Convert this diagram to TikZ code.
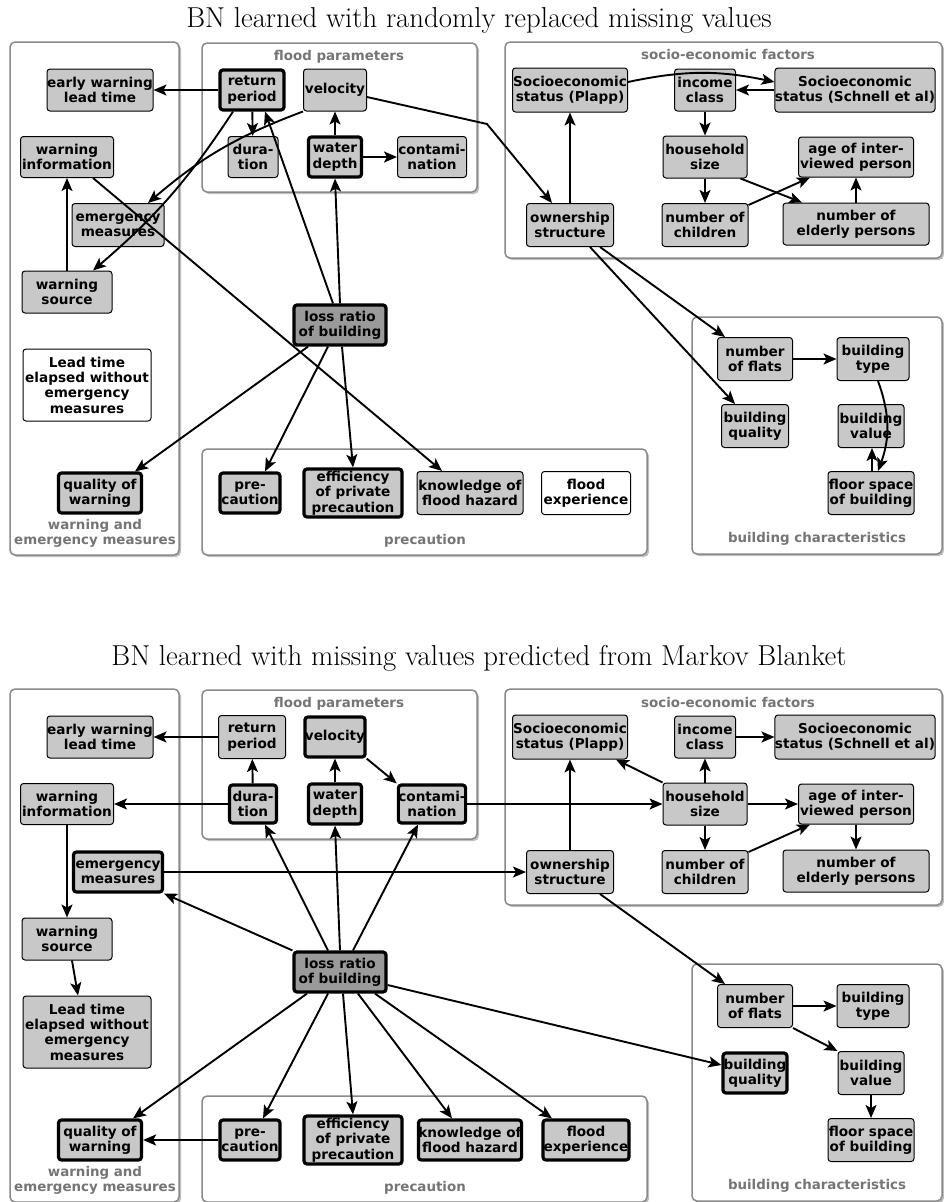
\documentclass[tikz,border=0pt]{standalone}
\usepackage{fontspec}
\newfontfamily\nodefont{DejaVu Sans}
\usetikzlibrary{arrows.meta,shadows}
\definecolor{nodegray}{HTML}{C8C8C8}
\definecolor{lossgray}{HTML}{9A9A9A}
\definecolor{framegray}{HTML}{8A8A8A}
\definecolor{labelgray}{HTML}{757575}
\tikzset{
  nd/.style={draw=black, line width=1pt, fill=nodegray, rounded corners=3pt,
    align=center, inner sep=0pt,
    font=\nodefont\bfseries\fontsize{13.6}{15.3}\selectfont},
  sz/.style 2 args={minimum width=#1pt, minimum height=#2pt},
  thk/.style={line width=3.2pt},
  wht/.style={fill=white},
  lossnd/.style={fill=lossgray, line width=3.2pt},
  grp/.style={draw=framegray, line width=1.5pt, rounded corners=5pt, fill=white,
    drop shadow={shadow xshift=2pt, shadow yshift=-2pt, opacity=0.25, fill=black}},
  grplabel/.style={text=labelgray, align=center, inner sep=0pt,
    font=\nodefont\bfseries\fontsize{13.4}{15.3}\selectfont},
  edge/.style={line width=1.9pt, -{Stealth[length=13pt,width=11pt,inset=3pt]}},
  ttl/.style={font=\fontsize{28.8}{34}\selectfont, anchor=base, inner sep=0pt},
}
\begin{document}
\begin{tikzpicture}[x=1pt,y=1pt]
\fill[white] (0,0) rectangle (944,-1202);
\useasboundingbox (0,0) rectangle (944,-1202);

%% ---------------- upper network ----------------
\node[ttl] (a-title) at (479,-27) {BN learned with randomly replaced missing values};

\draw[grp] (10,-42) rectangle (179,-555);
\draw[grp] (202,-43) rectangle (477,-192);
\draw[grp] (505,-42) rectangle (942,-258);
\draw[grp] (202,-449) rectangle (647,-555);
\draw[grp] (692,-317) rectangle (942,-554);
\node[grplabel] (a-lwarn) at (95,-533) {warning and\\emergency measures};
\node[grplabel] (a-lflood) at (339,-57) {flood parameters};
\node[grplabel] (a-lsocio) at (728,-55) {socio-economic factors};
\node[grplabel] (a-lprec) at (425,-541) {precaution};
\node[grplabel] (a-lbuild) at (817,-539) {building characteristics};

\node[nd,sz={106}{42}] (a-ewlt) at (100,-90) {early warning\\lead time};
\node[nd,thk,sz={64}{40}] (a-rp) at (252,-90) {return\\period};
\node[nd,sz={63}{42}] (a-vel) at (335,-90) {velocity};
\node[nd,sz={50}{41}] (a-dur) at (253,-157) {dura-\\tion};
\node[nd,thk,sz={53}{40}] (a-wd) at (335,-157) {water\\depth};
\node[nd,sz={69}{41}] (a-cont) at (432,-157) {contami-\\nation};
\node[nd,sz={93}{41}] (a-wi) at (67,-157) {warning\\information};
\node[nd,sz={92}{43}] (a-em) at (118,-225) {emergency\\measures};
\node[nd,sz={90}{42}] (a-ws) at (67,-292) {warning\\source};
\node[nd,lossnd,sz={92}{40}] (a-loss) at (340,-325) {loss ratio\\of building};
\node[nd,wht,sz={128}{72}] (a-lead) at (87,-385) {Lead time\\elapsed without\\emergency\\measures};
\node[nd,thk,sz={83}{40}] (a-qw) at (100,-493) {quality of\\warning};
\node[nd,thk,sz={60}{40}] (a-prec) at (250,-493) {pre-\\caution};
\node[nd,thk,sz={98}{48}] (a-eff) at (353,-493) {efficiency\\of private\\precaution};
\node[nd,sz={106}{43}] (a-know) at (470,-493) {knowledge of\\flood hazard};
\node[nd,wht,sz={89}{43}] (a-fexp) at (586,-493) {flood\\experience};
\node[nd,sz={115}{44}] (a-plapp) at (570,-90) {Socioeconomic\\status (Plapp)};
\node[nd,sz={61}{42}] (a-ic) at (705,-90) {income\\class};
\node[nd,sz={160}{44}] (a-schn) at (855,-90) {Socioeconomic\\status (Schnell et al)};
\node[nd,sz={84}{42}] (a-hh) at (705,-157) {household\\size};
\node[nd,sz={115}{40}] (a-age) at (856,-157) {age of inter-\\viewed person};
\node[nd,sz={87}{43}] (a-own) at (570,-225) {ownership\\structure};
\node[nd,sz={86}{43}] (a-child) at (705,-225) {number of\\children};
\node[nd,sz={146}{42}] (a-eld) at (856,-224) {number of\\elderly persons};
\node[nd,sz={75}{43}] (a-flats) at (755,-359) {number\\of flats};
\node[nd,sz={72}{43}] (a-btype) at (873,-359) {building\\type};
\node[nd,sz={67}{43}] (a-bq) at (755,-426) {building\\quality};
\node[nd,sz={66}{43}] (a-bv) at (871,-426) {building\\value};
\node[nd,sz={86}{43}] (a-floor) at (871,-493) {floor space\\of building};
\coordinate (a-kink) at (487,-124);

\draw[edge] (a-rp) -- (a-ewlt);
\draw[edge] (a-rp) -- (a-dur);
\draw[edge] ([xshift=-7pt]a-loss.north) -- ([xshift=13pt]a-rp.south);
\draw[edge] (a-loss.north) -- (a-wd.south);
\draw[edge] (a-wd) -- (a-vel);
\draw[edge] (a-wd) -- (a-cont);
\draw[edge] (a-vel.south west) to[bend right=10] ([xshift=30pt]a-em.north);
\draw[edge] ([xshift=-19pt]a-rp.south) to[bend left=8] ([xshift=26pt]a-ws.north);
\draw[edge] ([yshift=-7pt]a-vel.east) -- (a-kink) -- ([xshift=-18pt]a-own.north);
\draw[edge] ([xshift=26pt]a-wi.south) -- ([xshift=-28pt]a-know.north);
\draw[edge] (a-ws) -- (a-wi);
\draw[edge] ([xshift=-32pt]a-loss.south) -- ([xshift=35pt]a-qw.north);
\draw[edge] ([xshift=-12pt]a-loss.south) -- ([xshift=15pt]a-prec.north);
\draw[edge] ([xshift=2pt]a-loss.south) -- (a-eff.north);
\draw[edge] (a-own) -- (a-plapp);
\draw[edge] ([yshift=8pt]a-plapp.east) to[bend left=12] ([yshift=8pt]a-schn.west);
\draw[edge] (a-schn) -- (a-ic);
\draw[edge] (a-ic) -- (a-hh);
\draw[edge] (a-hh) -- (a-child);
\draw[edge] ([xshift=-7pt]a-hh.south east) -- ([xshift=-54pt]a-eld.north);
\draw[edge] ([yshift=-2pt]a-child.north east) -- ([xshift=-46pt]a-age.south);
\draw[edge] (a-eld) -- (a-age);
\draw[edge] ([xshift=30pt]a-own.south) -- ([xshift=-30pt]a-flats.north);
\draw[edge] ([xshift=20pt]a-own.south) -- ([xshift=-20pt]a-bq.north);
\draw[edge] (a-flats) -- (a-btype);
\draw[edge] ([xshift=5pt]a-btype.south) to[bend left=20] ([xshift=7pt]a-floor.north);
\draw[edge] ([xshift=1pt]a-floor.north) -- ([xshift=1pt]a-bv.south);

%% ---------------- lower network ----------------
\node[ttl] (b-title) at (479,-665) {BN learned with missing values predicted from Markov Blanket};
\begin{scope}[yshift=-647pt]
\draw[grp] (10,-42) rectangle (179,-555);
\draw[grp] (202,-43) rectangle (477,-192);
\draw[grp] (505,-42) rectangle (942,-258);
\draw[grp] (202,-449) rectangle (647,-555);
\draw[grp] (692,-317) rectangle (942,-554);
\node[grplabel] (b-lwarn) at (95,-533) {warning and\\emergency measures};
\node[grplabel] (b-lflood) at (339,-57) {flood parameters};
\node[grplabel] (b-lsocio) at (728,-55) {socio-economic factors};
\node[grplabel] (b-lprec) at (425,-541) {precaution};
\node[grplabel] (b-lbuild) at (817,-539) {building characteristics};

\node[nd,sz={106}{42}] (b-ewlt) at (100,-90) {early warning\\lead time};
\node[nd,sz={67}{43}] (b-rp) at (252,-90) {return\\period};
\node[nd,thk,sz={60}{40}] (b-vel) at (335,-90) {velocity};
\node[nd,thk,sz={47}{38}] (b-dur) at (253,-157) {dura-\\tion};
\node[nd,thk,sz={53}{40}] (b-wd) at (335,-157) {water\\depth};
\node[nd,thk,sz={66}{38}] (b-cont) at (432,-157) {contami-\\nation};
\node[nd,sz={93}{41}] (b-wi) at (67,-157) {warning\\information};
\node[nd,thk,sz={89}{40}] (b-em) at (118,-225) {emergency\\measures};
\node[nd,sz={90}{42}] (b-ws) at (67,-292) {warning\\source};
\node[nd,lossnd,sz={92}{40}] (b-loss) at (340,-325) {loss ratio\\of building};
\node[nd,sz={128}{72}] (b-lead) at (87,-385) {Lead time\\elapsed without\\emergency\\measures};
\node[nd,thk,sz={83}{40}] (b-qw) at (100,-493) {quality of\\warning};
\node[nd,thk,sz={60}{40}] (b-prec) at (250,-493) {pre-\\caution};
\node[nd,thk,sz={98}{48}] (b-eff) at (353,-493) {efficiency\\of private\\precaution};
\node[nd,thk,sz={103}{40}] (b-know) at (470,-493) {knowledge of\\flood hazard};
\node[nd,thk,sz={86}{40}] (b-fexp) at (586,-493) {flood\\experience};
\node[nd,sz={115}{44}] (b-plapp) at (570,-90) {Socioeconomic\\status (Plapp)};
\node[nd,sz={61}{42}] (b-ic) at (705,-90) {income\\class};
\node[nd,sz={160}{44}] (b-schn) at (855,-90) {Socioeconomic\\status (Schnell et al)};
\node[nd,sz={84}{42}] (b-hh) at (705,-157) {household\\size};
\node[nd,sz={115}{40}] (b-age) at (856,-157) {age of inter-\\viewed person};
\node[nd,sz={87}{43}] (b-own) at (570,-225) {ownership\\structure};
\node[nd,sz={86}{43}] (b-child) at (705,-225) {number of\\children};
\node[nd,sz={146}{42}] (b-eld) at (856,-224) {number of\\elderly persons};
\node[nd,sz={75}{43}] (b-flats) at (755,-359) {number\\of flats};
\node[nd,sz={72}{43}] (b-btype) at (873,-359) {building\\type};
\node[nd,thk,sz={64}{40}] (b-bq) at (755,-426) {building\\quality};
\node[nd,sz={66}{43}] (b-bv) at (871,-426) {building\\value};
\node[nd,sz={86}{43}] (b-floor) at (871,-493) {floor space\\of building};
\end{scope}

\draw[edge] (b-dur) -- (b-rp);
\draw[edge] (b-rp) -- (b-ewlt);
\draw[edge] (b-dur) -- (b-wi);
\draw[edge] (b-wd) -- (b-vel);
\draw[edge] (b-vel.south east) -- (b-cont.north west);
\draw[edge] (b-cont) -- (b-hh);
\draw[edge] (b-em) -- (b-own);
\draw[edge] (b-wi) -- (b-ws);
\draw[edge] ([xshift=5pt]b-ws.south) -- ([xshift=-9pt]b-lead.north);
\draw[edge] (b-loss.north west) -- (b-em.south east);
\draw[edge] ([xshift=-12pt]b-loss.north) -- ([xshift=12pt]b-dur.south);
\draw[edge] (b-loss.north) -- (b-wd.south);
\draw[edge] ([xshift=13pt]b-loss.north) -- ([xshift=-14pt]b-cont.south);
\draw[edge] ([xshift=-33pt]b-loss.south) -- ([xshift=33pt]b-qw.north);
\draw[edge] ([xshift=-12pt]b-loss.south) -- ([xshift=13pt]b-prec.north);
\draw[edge] ([xshift=3pt]b-loss.south) -- (b-eff.north);
\draw[edge] ([xshift=18pt]b-loss.south) -- ([xshift=-18pt]b-know.north);
\draw[edge] ([xshift=35pt]b-loss.south) -- ([xshift=-34pt]b-fexp.north);
\draw[edge] ([yshift=-13pt]b-loss.east) -- ([yshift=8pt]b-bq.west);
\draw[edge] (b-prec) -- (b-qw);
\draw[edge] (b-own) -- (b-plapp);
\draw[edge] (b-hh.north west) -- ([xshift=-12pt]b-plapp.south east);
\draw[edge] (b-hh) -- (b-ic);
\draw[edge] (b-ic) -- (b-schn);
\draw[edge] (b-hh) -- (b-age);
\draw[edge] (b-hh) -- (b-child);
\draw[edge] ([yshift=-2pt]b-child.north east) -- ([xshift=-46pt]b-age.south);
\draw[edge] (b-age) -- (b-eld);
\draw[edge] ([xshift=30pt]b-own.south) -- ([xshift=-30pt]b-flats.north);
\draw[edge] (b-flats) -- (b-btype);
\draw[edge] (b-flats.south east) -- (b-bv.north west);
\draw[edge] (b-bv) -- (b-floor);
\end{tikzpicture}
\end{document}
